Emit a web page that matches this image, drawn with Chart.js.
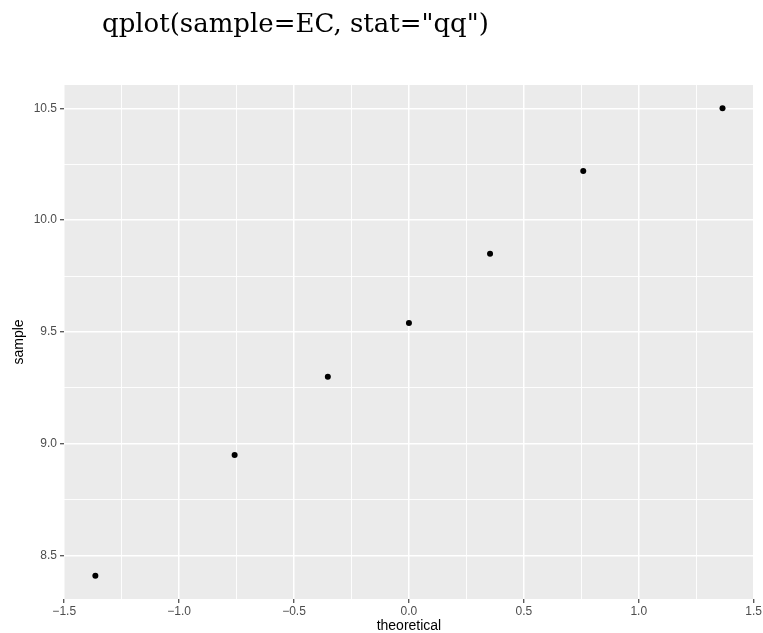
<!DOCTYPE html>
<html>
<head>
<meta charset="utf-8">
<script src="https://cdn.jsdelivr.net/npm/chart.js@4"></script>
<style>
  html, body { margin: 0; padding: 0; background: #fff; }
  #wrap { width: 763px; height: 633px; position: relative; }
</style>
</head>
<body>
<div id="wrap"><canvas id="qq"></canvas></div>
<script>
// data
const theoretical = [-1.3645, -0.7585, -0.3529, 0, 0.3529, 0.7585, 1.3645];
const sampleValues = [8.41, 8.95, 9.3, 9.54, 9.85, 10.22, 10.5];
const xMajor = [-1.5, -1.0, -0.5, 0, 0.5, 1.0, 1.5];
const yMajor = [8.5, 9.0, 9.5, 10.0, 10.5];
const plotTitle = 'qplot(sample=EC, stat="qq")';

// ggplot style 5% expansion of the data range
function expand(values) {
  const lo = Math.min(...values), hi = Math.max(...values);
  const pad = (hi - lo) * 0.05;
  return [lo - pad, hi + pad];
}
const [xMin, xMax] = expand(theoretical);
const [yMin, yMax] = expand(sampleValues);

// majors plus the minor lines half way between them
function withMinors(major) {
  const step = major[1] - major[0];
  const all = [];
  major.forEach((v) => {
    all.push(v - step / 2);
    all.push(v);
  });
  all.push(major[major.length - 1] + step / 2);
  return all;
}

function isMajor(list, v) {
  return list.some((m) => Math.abs(m - v) < 1e-9);
}

function fmt(v) {
  const s = Math.abs(v).toFixed(1);
  return v < -1e-9 ? "\u2212" + s : s;
}

function gridFor(major) {
  return {
    drawOnChartArea: true,
    drawTicks: true,
    tickLength: 4,
    color: "#ffffff",
    lineWidth: (c) => (isMajor(major, c.tick.value) ? 1.5 : 0.9),
    tickColor: (c) => (isMajor(major, c.tick.value) ? "#333333" : "rgba(0,0,0,0)"),
    tickWidth: 1.1,
  };
}

const panelBg = {
  id: "panelBg",
  beforeDraw(chart) {
    const { ctx, chartArea: a } = chart;
    ctx.save();
    ctx.fillStyle = "#EBEBEB";
    ctx.fillRect(a.left, a.top, a.right - a.left, a.bottom - a.top);
    ctx.restore();
  },
};

const mainTitle = {
  id: "mainTitle",
  afterDraw(chart) {
    const ctx = chart.ctx;
    ctx.save();
    ctx.font = '26px "DejaVu Serif", "Liberation Serif", serif';
    ctx.fillStyle = "#000000";
    ctx.textBaseline = "alphabetic";
    ctx.textAlign = "left";
    ctx.fillText(plotTitle, 102, 32);
    ctx.restore();
  },
};

Chart.defaults.font.family = '"Liberation Sans", Arial, sans-serif';

new Chart(document.getElementById("qq"), {
  type: "scatter",
  data: {
    datasets: [
      {
        data: theoretical.map((x, i) => ({ x: x, y: sampleValues[i] })),
        backgroundColor: "#000000",
        borderWidth: 0,
        pointRadius: 3,
        pointHoverRadius: 3,
      },
    ],
  },
  options: {
    responsive: true,
    maintainAspectRatio: false,
    animation: false,
    layout: { padding: { top: 85, right: 9, left: 0, bottom: 0 } },
    plugins: {
      legend: { display: false },
      tooltip: { enabled: false },
      title: { display: false },
    },
    scales: {
      x: {
        type: "linear",
        min: xMin,
        max: xMax,
        border: { display: false },
        grid: gridFor(xMajor),
        afterBuildTicks: (s) => {
          s.ticks = withMinors(xMajor)
            .filter((v) => v >= s.min && v <= s.max)
            .map((v) => ({ value: v }));
        },
        afterFit: (s) => {
          s.height = 34;
        },
        ticks: {
          autoSkip: false,
          maxRotation: 0,
          padding: 1,
          color: "#4D4D4D",
          font: { size: 12 },
          callback: (v) => (isMajor(xMajor, v) ? fmt(v) : ""),
        },
        title: {
          display: true,
          text: "theoretical",
          color: "#000000",
          font: { size: 14, lineHeight: 1 },
          padding: { top: 0, bottom: 0 },
        },
      },
      y: {
        type: "linear",
        min: yMin,
        max: yMax,
        border: { display: false },
        grid: gridFor(yMajor),
        afterBuildTicks: (s) => {
          s.ticks = withMinors(yMajor)
            .filter((v) => v >= s.min && v <= s.max)
            .map((v) => ({ value: v }));
        },
        afterFit: (s) => {
          s.width = 64;
        },
        ticks: {
          autoSkip: false,
          padding: 3,
          color: "#4D4D4D",
          font: { size: 12 },
          callback: (v) => (isMajor(yMajor, v) ? fmt(v) : ""),
        },
        title: {
          display: true,
          text: "sample",
          color: "#000000",
          font: { size: 14, lineHeight: 1 },
          padding: { top: 12, bottom: 0 },
        },
      },
    },
  },
  plugins: [panelBg, mainTitle],
});
</script>
</body>
</html>
